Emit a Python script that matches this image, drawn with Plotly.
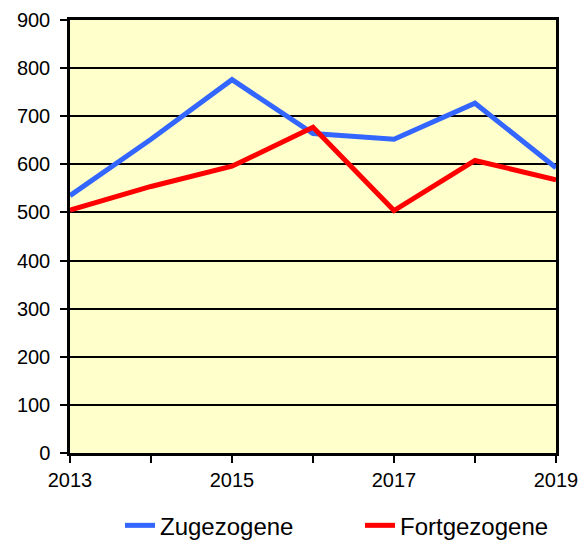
import plotly.graph_objects as go

# Einwohnerbewegung pro Jahr
jahre = [2013, 2014, 2015, 2016, 2017, 2018, 2019]
zugezogene = [535, 652, 776, 664, 652, 727, 593]
fortgezogene = [505, 554, 596, 677, 504, 608, 568]
x_beschriftung = ["2013", "", "2015", "", "2017", "", "2019"]
y_werte = [0, 100, 200, 300, 400, 500, 600, 700, 800, 900]

fig = go.Figure()
fig.add_trace(go.Scatter(x=jahre, y=zugezogene, mode="lines", name="Zugezogene",
                         line=dict(color="#3366FF", width=5), legend="legend"))
fig.add_trace(go.Scatter(x=jahre, y=fortgezogene, mode="lines", name="Fortgezogene",
                         line=dict(color="#FF0000", width=5), legend="legend2"))

legende = dict(orientation="h", xref="container", xanchor="left",
               yref="container", y=0.03, yanchor="middle",
               font=dict(size=24), tracegroupgap=0)

fig.update_layout(
    width=588, height=542,
    margin=dict(l=70, r=32, t=20, b=89, autoexpand=False),
    paper_bgcolor="white",
    plot_bgcolor="#FFFFCC",
    font=dict(family="Liberation Sans, Arial, sans-serif", size=20, color="black"),
    showlegend=True,
    legend=dict(legende, x=120 / 588),
    legend2=dict(legende, x=360 / 588),
)
fig.update_xaxes(
    range=[2013, 2019], tickmode="array", tickvals=jahre, ticktext=x_beschriftung,
    tickfont=dict(size=20), ticklabelstandoff=0,
    showgrid=False, zeroline=False, showline=True, linecolor="black", linewidth=2.5,
    mirror=True, ticks="outside", ticklen=7, tickwidth=2, tickcolor="black",
)
fig.update_yaxes(
    range=[0, 900], tickmode="array", tickvals=y_werte, tickfont=dict(size=20),
    ticklabelstandoff=6,
    showgrid=True, gridcolor="black", gridwidth=2, zeroline=False,
    showline=True, linecolor="black", linewidth=2.5, mirror=True,
    ticks="outside", ticklen=7, tickwidth=2, tickcolor="black",
)

fig.write_html("out.html")
